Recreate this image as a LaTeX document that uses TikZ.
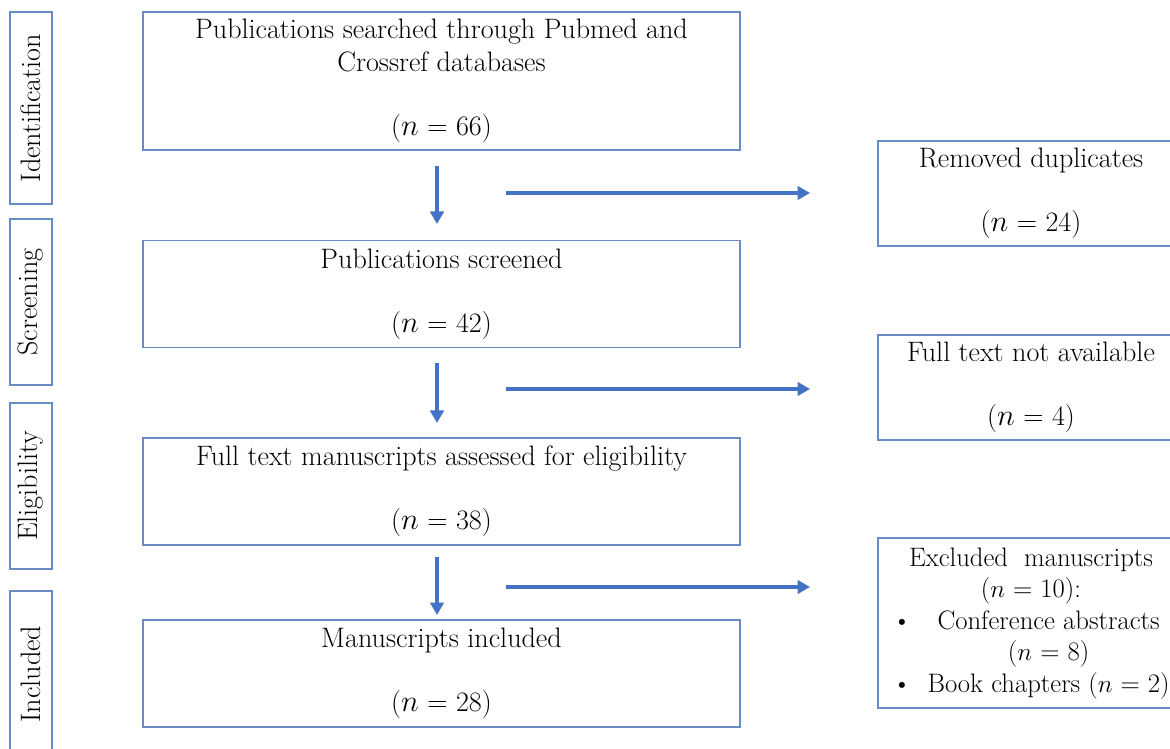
\documentclass[tikz,border=0pt]{standalone}
\usetikzlibrary{arrows.meta}
\definecolor{flowblue}{HTML}{4472C4}
\definecolor{edgeblue}{HTML}{6A8CC4}
\newcommand{\nval}[1]{($n$ = #1)}
\begin{document}
\begin{tikzpicture}[
    x=0.02cm, y=-0.02cm,
    font=\fontsize{16}{18.7}\selectfont,
    stage/.style={draw=edgeblue, line width=0.7pt, rotate=90, minimum width=3.32cm, minimum height=0.84cm, inner sep=0pt},
    mainbox/.style={draw=edgeblue, line width=0.7pt, minimum width=11.94cm, minimum height=2.14cm, align=center, inner sep=0pt},
    sidebox/.style={draw=edgeblue, line width=0.7pt, minimum width=6.12cm, minimum height=2.1cm, align=center, inner sep=0pt},
    arr/.style={-{Triangle[length=0.25cm, width=0.27cm]}, line width=0.08cm, flowblue}
  ]
    \useasboundingbox (0,0) rectangle (1170,749);
    \clip (0,0) rectangle (1170,749);

    % stage labels
    \node[stage, minimum width=3.84cm] (sid) at (31,108) {Identification};
    \node[stage] (ssc) at (31,302) {Screening};
    \node[stage] (sel) at (31,486) {Eligibility};
    \node[stage] (sin) at (31,674) {Included};

    % main flow
    \node[mainbox, minimum height=2.76cm] (b1) at (441.5,81)
      {Publications searched through Pubmed and\\Crossref databases\\[17.6pt]\nval{66}};
    \node[mainbox] (b2) at (441.5,294) {Publications screened\\[17.6pt]\nval{42}};
    \node[mainbox] (b3) at (441.5,491.5)
      {Full text manuscripts assessed for eligibility\\[17.6pt]\nval{38}};
    \node[mainbox] (b4) at (441.5,673.5) {Manuscripts included\\[17.6pt]\nval{28}};

    % excluded records
    \node[sidebox] (r1) at (1031,193.5) {Removed duplicates\\[17.6pt]\nval{24}};
    \node[sidebox] (r2) at (1031,387.5) {Full text not available\\[17.6pt]\nval{4}};
    \node[sidebox, minimum height=3.4cm, font=\fontsize{15.2}{18}\selectfont] (r3) at (1031,623) {%
      \begin{tabular}{@{}c@{\hspace{0.32cm}}c@{}}
        \multicolumn{2}{c}{Excluded\ \ manuscripts}\\
        \multicolumn{2}{c}{\nval{10}:}\\
        \textbullet & Conference abstracts\\
                    & \nval{8}\\
        \textbullet & Book chapters \nval{2}
      \end{tabular}};

    \coordinate (d1a) at (437,166);
    \coordinate (d1b) at (437,224);
    \coordinate (d2a) at (437,363);
    \coordinate (d2b) at (437,423);
    \coordinate (d3a) at (437,557);
    \coordinate (d3b) at (437,615);
    \coordinate (h1a) at (506,193);
    \coordinate (h1b) at (810,193);
    \coordinate (h2a) at (506,389);
    \coordinate (h2b) at (810,389);
    \coordinate (h3a) at (506,587);
    \coordinate (h3b) at (810,587);

    \draw[arr] (d1a) -- (d1b);
    \draw[arr] (d2a) -- (d2b);
    \draw[arr] (d3a) -- (d3b);
    \draw[arr] (h1a) -- (h1b);
    \draw[arr] (h2a) -- (h2b);
    \draw[arr] (h3a) -- (h3b);
  \end{tikzpicture}
\end{document}
